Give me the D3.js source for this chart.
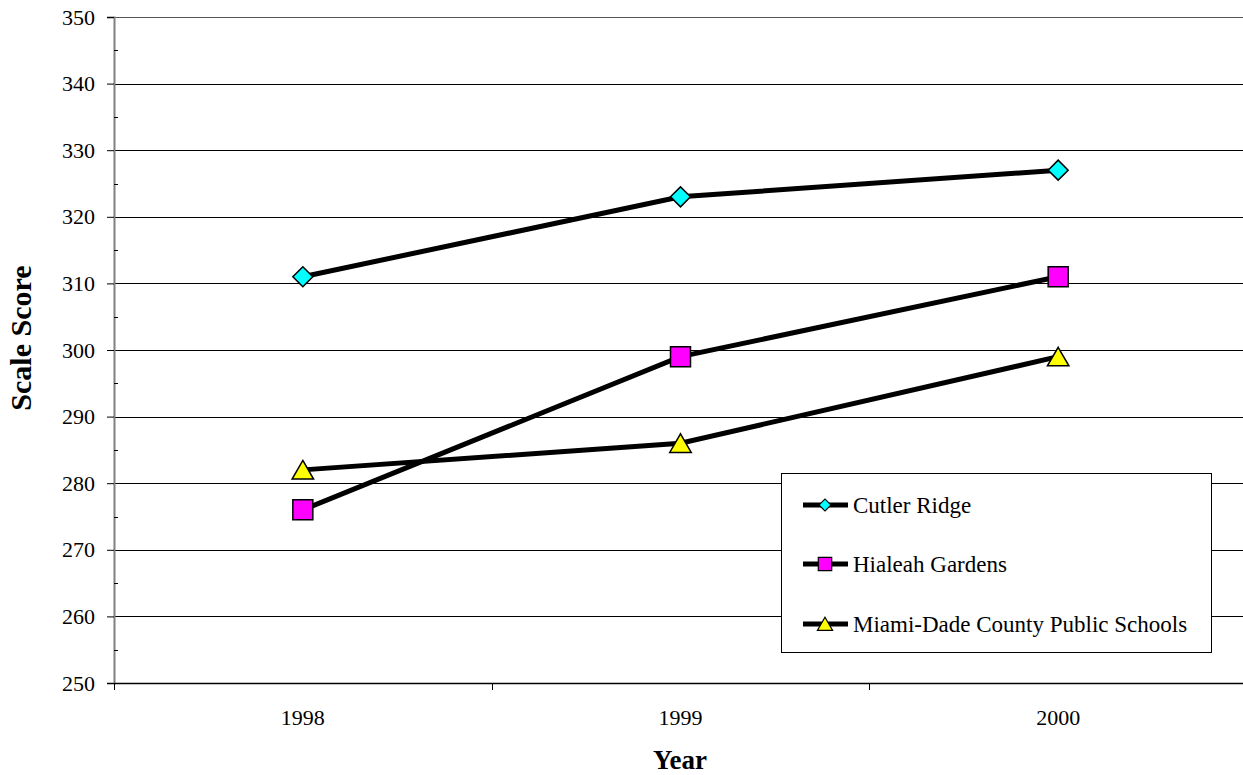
<!DOCTYPE html>
<html>
<head>
<meta charset="utf-8">
<script src="https://cdn.jsdelivr.net/npm/d3@7"></script>
<style>
  body { margin: 0; background: #fff; }
  svg { display: block; }
  svg text { font-family: "Liberation Serif", "Times New Roman", serif; fill: #000; }
</style>
</head>
<body>
<div id="chart"></div>
<script>
// data
var years = ["1998", "1999", "2000"];
var seriesNames = ["Cutler Ridge", "Hialeah Gardens", "Miami-Dade County Public Schools"];
var cutlerRidge = [311, 323, 327];
var hialeahGardens = [276, 299, 311];
var miamiDade = [282, 286, 299];
var yTicks = [250, 260, 270, 280, 290, 300, 310, 320, 330, 340, 350];

var width = 1243;
var height = 775;
var plotLeft = 114, plotRight = 1247, plotTop = 17, plotBottom = 683;

var svg = d3.select("#chart").append("svg")
  .attr("width", width)
  .attr("height", height);

var xScale = d3.scaleBand().domain(years).range([plotLeft, plotRight]);
var yScale = d3.scaleLinear().domain([250, 350]).range([plotBottom, plotTop]);

// gridlines
svg.append("g")
  .selectAll("line")
  .data(yTicks.slice(1))
  .enter()
  .append("line")
  .attr("x1", plotLeft).attr("x2", width)
  .attr("y1", function (d) { return Math.round(yScale(d)) + 0.5; })
  .attr("y2", function (d) { return Math.round(yScale(d)) + 0.5; })
  .attr("stroke", function (d) { return d == 350 ? "#555" : "#000"; })
  .attr("stroke-width", 1);

// y axis
var axisy = d3.axisLeft(yScale).tickValues(yTicks).tickSize(7).tickPadding(12);
var gy = svg.append("g")
  .attr("transform", "translate(" + plotLeft + ",0)")
  .call(axisy);
gy.select(".domain").attr("stroke", "#808080").attr("stroke-width", 2);
gy.selectAll(".tick line").attr("stroke", "#000");
gy.selectAll("text").attr("font-size", 22);

// minor ticks
svg.append("g")
  .selectAll("line")
  .data(yTicks.slice(0, -1))
  .enter()
  .append("line")
  .attr("x1", plotLeft).attr("x2", plotLeft + 4)
  .attr("y1", function (d) { return Math.round(yScale(d + 5)) + 0.5; })
  .attr("y2", function (d) { return Math.round(yScale(d + 5)) + 0.5; })
  .attr("stroke", "#000");

// x axis
var gx = svg.append("g")
  .attr("transform", "translate(0," + plotBottom + ")");
gx.append("line")
  .attr("x1", plotLeft).attr("x2", width)
  .attr("y1", 0.5).attr("y2", 0.5)
  .attr("stroke", "#000").attr("stroke-width", 1.5);
gx.selectAll(".xtick")
  .data(years.concat(["end"]))
  .enter()
  .append("line")
  .attr("x1", function (d, i) { return Math.round(plotLeft + i * xScale.bandwidth()) + 0.5; })
  .attr("x2", function (d, i) { return Math.round(plotLeft + i * xScale.bandwidth()) + 0.5; })
  .attr("y1", 0).attr("y2", 7)
  .attr("stroke", "#000");
gx.selectAll("text")
  .data(years)
  .enter()
  .append("text")
  .attr("x", function (d) { return xScale(d) + xScale.bandwidth() / 2; })
  .attr("y", 42)
  .attr("text-anchor", "middle")
  .attr("font-size", 22)
  .text(function (d) { return d; });

// axis titles
svg.append("text")
  .attr("x", 680).attr("y", 769)
  .attr("text-anchor", "middle")
  .attr("font-size", 27).attr("font-weight", "bold")
  .text("Year");
svg.append("text")
  .attr("transform", "translate(31,338) rotate(-90)")
  .attr("text-anchor", "middle")
  .attr("font-size", 30).attr("font-weight", "bold")
  .text("Scale Score");

// series (diamond = rotated square)
var series = [
  { name: seriesNames[0], values: cutlerRidge, shape: d3.symbolSquare, rot: 45, dy: 0, fill: "#00FFFF", size: 200, lsize: 72, ldy: 0 },
  { name: seriesNames[1], values: hialeahGardens, shape: d3.symbolSquare, rot: 0, dy: 0, fill: "#FF00FF", size: 400, lsize: 180, ldy: 0 },
  { name: seriesNames[2], values: miamiDade, shape: d3.symbolTriangle, rot: 0, dy: 3, fill: "#FFFF00", size: 200, lsize: 100, ldy: 2 }
];

var cx = function (i) { return xScale(years[i]) + xScale.bandwidth() / 2; };

var line = d3.line()
  .x(function (d, i) { return cx(i); })
  .y(function (d) { return yScale(d); });

series.forEach(function (s) {
  svg.append("path")
    .datum(s.values)
    .attr("d", line)
    .attr("fill", "none")
    .attr("stroke", "#000")
    .attr("stroke-width", 5);
});

series.forEach(function (s) {
  svg.append("g")
    .selectAll("path")
    .data(s.values)
    .enter()
    .append("path")
    .attr("d", d3.symbol().type(s.shape).size(s.size))
    .attr("transform", function (d, i) {
      return "translate(" + cx(i) + "," + (yScale(d) + s.dy) + ") rotate(" + s.rot + ")";
    })
    .attr("fill", s.fill)
    .attr("stroke", "#000")
    .attr("stroke-width", 1.5);
});

// legend
var legend = svg.append("g");
legend.append("rect")
  .attr("x", 781.5).attr("y", 473.5)
  .attr("width", 430).attr("height", 179)
  .attr("fill", "#fff")
  .attr("stroke", "#000");

var legendY = [505, 564, 624];
series.forEach(function (s, i) {
  var g = legend.append("g").attr("transform", "translate(0," + legendY[i] + ")");
  g.append("line")
    .attr("x1", 803).attr("x2", 848)
    .attr("y1", 0).attr("y2", 0)
    .attr("stroke", "#000").attr("stroke-width", 5);
  g.append("path")
    .attr("d", d3.symbol().type(s.shape).size(s.lsize))
    .attr("transform", "translate(825," + s.ldy + ") rotate(" + s.rot + ")")
    .attr("fill", s.fill)
    .attr("stroke", "#000")
    .attr("stroke-width", 1.2);
  g.append("text")
    .attr("x", 853).attr("y", 8)
    .attr("font-size", 23)
    .text(s.name);
});
</script>
</body>
</html>
